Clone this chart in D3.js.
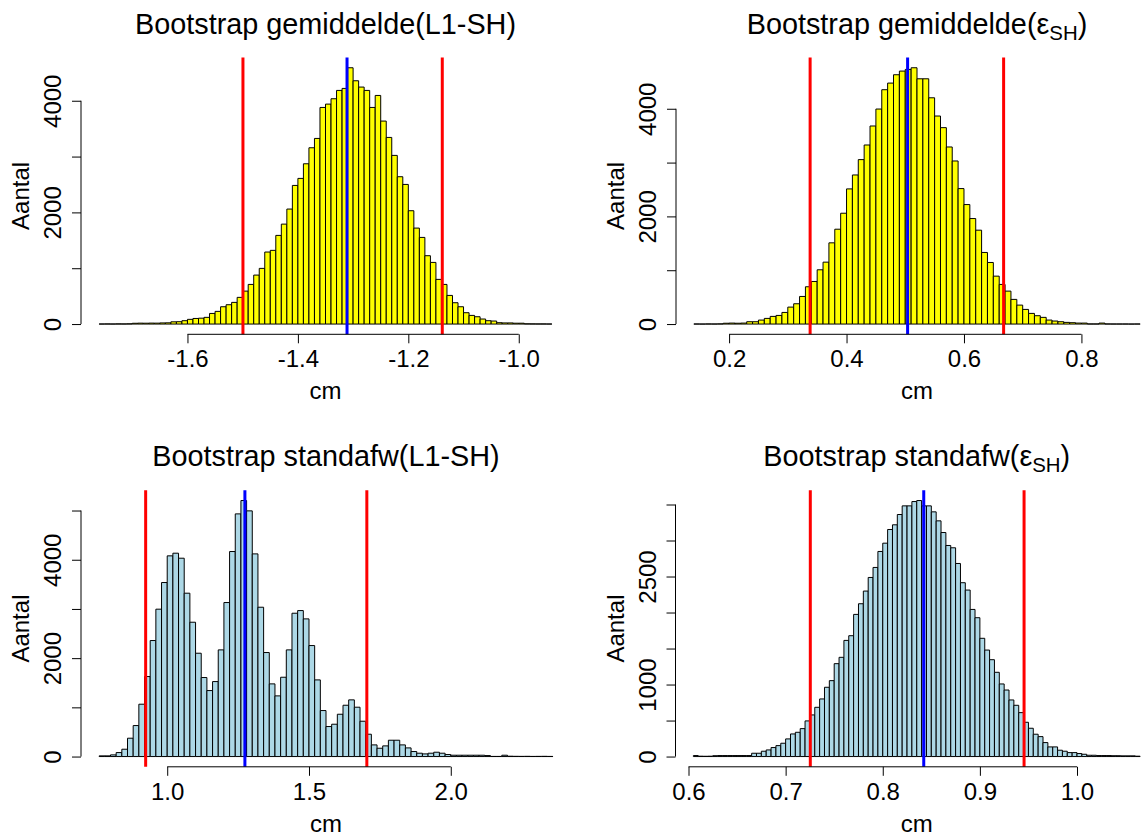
<!DOCTYPE html>
<html>
<head>
<meta charset="utf-8">
<script src="https://cdn.jsdelivr.net/npm/d3@7"></script>
<style>
  body { margin: 0; background: #fff; }
  svg { display: block; font-family: "Liberation Sans", Arial, Helvetica, sans-serif; }
</style>
</head>
<body>
<div id="chart"></div>
<script>
// Bootstrap histograms: counts per bin, first break and bin width
const meanL1Counts = [1, 2, 1, 3, 2, 4, 14, 16, 15, 17, 16, 20, 22, 40, 42, 60, 84, 100, 105, 120,
  190, 227, 310, 346, 388, 478, 590, 710, 877, 997, 1290, 1320, 1588, 1790, 2060, 2483, 2609, 2871, 3158, 3325,
  3880, 3940, 4036, 4185, 4221, 4591, 4358, 4245, 4185, 3880, 4095, 3636, 3343, 3021, 2639, 2501, 2030, 1719, 1552, 1224,
  1104, 800, 710, 513, 382, 310, 203, 155, 131, 90, 60, 54, 24, 20, 20, 15, 15, 4, 3, 2, 2, 1];
const meanL1Start = -1.76;
const meanL1Bin = 0.01;
const meanL1Ci = [-1.4995, -1.1385];
const meanL1Mean = -1.311;
const meanL1XTicks = [-1.6, -1.4, -1.2, -1.0];
const meanL1YTicks = [0, 1000, 2000, 3000, 4000];
const meanL1YLabels = [0, 2000, 4000];

const meanEpsCounts = [1, 0, 2, 1, 3, 15, 18, 15, 18, 43, 43, 74, 105, 142, 160, 216, 315, 377, 513, 693,
  791, 1008, 1150, 1509, 1762, 2059, 2511, 2770, 3055, 3327, 3680, 3995, 4354, 4477, 4632, 4700, 4731, 4762, 4557, 4557,
  4204, 3865, 3649, 3290, 3030, 2517, 2220, 1960, 1744, 1330, 1144, 890, 736, 612, 458, 352, 272, 198, 155, 124,
  74, 56, 43, 31, 25, 18, 18, 2, 2, 18, 2, 1, 1, 1, 0, 1];
const meanEpsStart = 0.14;
const meanEpsBin = 0.01;
const meanEpsCi = [0.338, 0.6675];
const meanEpsMean = 0.504;
const meanEpsXTicks = [0.2, 0.4, 0.6, 0.8];
const meanEpsYTicks = [0, 1000, 2000, 3000, 4000];
const meanEpsYLabels = [0, 2000, 4000];

const sdL1Counts = [14, 14, 34, 81, 149, 373, 630, 1064, 1626, 2358, 2995, 3537, 4079, 4133, 4031, 3320, 2730, 2100, 1606, 1341,
  1524, 2168, 3130, 4167, 4932, 5203, 4993, 4119, 3035, 2114, 1477, 1233, 1612, 2168, 2913, 2967, 2798, 2256, 1558, 935,
  610, 657, 860, 1043, 1152, 1003, 718, 454, 237, 169, 217, 332, 332, 237, 176, 102, 68, 54, 68, 88,
  68, 41, 27, 27, 27, 27, 27, 27, 20, 3, 3, 27, 7, 5, 4, 5, 3, 4, 5, 3];
const sdL1Start = 0.76;
const sdL1Bin = 0.02;
const sdL1Ci = [0.924, 1.704];
const sdL1Mean = 1.274;
const sdL1XTicks = [1.0, 1.5, 2.0];
const sdL1YTicks = [0, 1000, 2000, 3000, 4000, 5000];
const sdL1YLabels = [0, 2000, 4000];

const sdEpsCounts = [14, 5, 4, 5, 12, 14, 14, 14, 14, 14, 14, 14, 46, 46, 74, 92, 125, 152, 185, 245,
  314, 337, 388, 495, 578, 684, 800, 962, 1054, 1290, 1378, 1613, 1678, 1974, 2122, 2298, 2487, 2626, 2848, 2963,
  3153, 3218, 3361, 3481, 3481, 3541, 3555, 3481, 3481, 3398, 3273, 3111, 2931, 2899, 2681, 2414, 2312, 2043, 1928, 1642,
  1479, 1345, 1170, 1008, 924, 786, 712, 610, 476, 393, 310, 277, 194, 134, 134, 88, 74, 55, 55, 42,
  32, 18, 18, 14, 14, 14, 12, 12, 10, 10, 10, 5];
const sdEpsStart = 0.605;
const sdEpsBin = 0.005;
const sdEpsCi = [0.7254, 0.9455];
const sdEpsMean = 0.8422;
const sdEpsXTicks = [0.6, 0.7, 0.8, 0.9, 1.0];
const sdEpsYTicks = [0, 500, 1000, 1500, 2000, 2500, 3000, 3500];
const sdEpsYLabels = [0, 1000, 2500];

const W = 1141, H = 837;
const FONT = 24;

// plot regions (R-style: data range padded 4% on each side)
const panels = [
  { title: ['Bootstrap gemiddelde(L1-SH)'], counts: meanL1Counts, start: meanL1Start, bin: meanL1Bin,
    ci: meanL1Ci, mean: meanL1Mean, xTicks: meanL1XTicks, yTicks: meanL1YTicks, yLabels: meanL1YLabels,
    fill: '#ffff00', box: { left: 81, right: 570, top: 57.5, bottom: 334.3 } },
  { title: ['Bootstrap gemiddelde(', 'SH', ')'], counts: meanEpsCounts, start: meanEpsStart, bin: meanEpsBin,
    ci: meanEpsCi, mean: meanEpsMean, xTicks: meanEpsXTicks, yTicks: meanEpsYTicks, yLabels: meanEpsYLabels,
    fill: '#ffff00', box: { left: 676, right: 1158, top: 57.5, bottom: 334.3 } },
  { title: ['Bootstrap standafw(L1-SH)'], counts: sdL1Counts, start: sdL1Start, bin: sdL1Bin,
    ci: sdL1Ci, mean: sdL1Mean, xTicks: sdL1XTicks, yTicks: sdL1YTicks, yLabels: sdL1YLabels,
    fill: '#add8e6', box: { left: 81, right: 571, top: 490.3, bottom: 766.8 } },
  { title: ['Bootstrap standafw(', 'SH', ')'], counts: sdEpsCounts, start: sdEpsStart, bin: sdEpsBin,
    ci: sdEpsCi, mean: sdEpsMean, xTicks: sdEpsXTicks, yTicks: sdEpsYTicks, yLabels: sdEpsYLabels,
    fill: '#add8e6', box: { left: 675.5, right: 1158, top: 490.3, bottom: 766.8 } }
];

const svg = d3.select('#chart')
  .append('svg')
  .attr('width', W)
  .attr('height', H);

svg.append('rect').attr('width', W).attr('height', H).attr('fill', '#fff');

panels.forEach(p => {
  const b = p.box;
  const bins = p.counts.map((c, i) => ({ x0: p.start + i * p.bin, x1: p.start + (i + 1) * p.bin, count: c }));
  const lo = bins[0].x0, hi = bins[bins.length - 1].x1;
  const maxC = d3.max(bins, d => d.count);

  const x = d3.scaleLinear()
    .domain([lo - 0.04 * (hi - lo), hi + 0.04 * (hi - lo)])
    .range([b.left, b.right]);
  const y = d3.scaleLinear()
    .domain([-0.04 * maxC, 1.04 * maxC])
    .range([b.bottom, b.top]);

  const g = svg.append('g');

  // bars as closed paths so empty bins still leave the baseline, like R's rect()
  g.append('g')
    .selectAll('path')
    .data(bins)
    .join('path')
    .attr('d', d => `M${x(d.x0)},${y(0)}V${y(d.count)}H${x(d.x1)}V${y(0)}Z`)
    .attr('fill', p.fill)
    .attr('stroke', '#000')
    .attr('stroke-width', 1);

  // interval and mean lines, clipped to the plot region
  const vlines = [
    { v: p.ci[0], color: '#ff0000' },
    { v: p.mean, color: '#0000ff' },
    { v: p.ci[1], color: '#ff0000' }
  ];
  g.append('g')
    .selectAll('line')
    .data(vlines)
    .join('line')
    .attr('x1', d => x(d.v))
    .attr('x2', d => x(d.v))
    .attr('y1', b.top)
    .attr('y2', b.bottom)
    .attr('stroke', d => d.color)
    .attr('stroke-width', 3);

  // x axis
  const fmt = d => d.toFixed(1);
  const xAxis = g.append('g')
    .attr('transform', `translate(0,${b.bottom})`)
    .call(d3.axisBottom(x).tickValues(p.xTicks).tickSize(9).tickPadding(7).tickFormat(fmt));
  xAxis.select('.domain').remove();
  xAxis.append('line')
    .attr('x1', x(p.xTicks[0]))
    .attr('x2', x(p.xTicks[p.xTicks.length - 1]))
    .attr('stroke', '#000');
  xAxis.selectAll('text').attr('fill', '#000').attr('font-size', FONT).attr('font-family', null);
  xAxis.selectAll('.tick line').attr('stroke', '#000');

  // y axis with rotated labels
  const yAxis = g.append('g')
    .attr('transform', `translate(${b.left},0)`)
    .call(d3.axisLeft(y).tickValues(p.yTicks).tickSize(9)
      .tickFormat(d => p.yLabels.includes(d) ? String(d) : ''));
  yAxis.select('.domain').remove();
  yAxis.append('line')
    .attr('y1', y(p.yTicks[0]))
    .attr('y2', y(p.yTicks[p.yTicks.length - 1]))
    .attr('stroke', '#000');
  yAxis.selectAll('.tick line').attr('stroke', '#000');
  yAxis.selectAll('text')
    .attr('fill', '#000')
    .attr('font-size', FONT)
    .attr('font-family', null)
    .attr('transform', 'rotate(-90)')
    .attr('text-anchor', 'middle')
    .attr('x', 0)
    .attr('y', -20)
    .attr('dy', null);

  // axis titles
  g.append('text')
    .attr('x', (b.left + b.right) / 2)
    .attr('y', b.bottom + 65)
    .attr('text-anchor', 'middle')
    .attr('font-size', FONT)
    .text('cm');

  g.append('text')
    .attr('transform', `translate(${b.left - 52},${(b.top + b.bottom) / 2}) rotate(-90)`)
    .attr('text-anchor', 'middle')
    .attr('font-size', FONT)
    .text('Aantal');

  // main title, epsilon with subscript when the title has three parts
  const title = g.append('text')
    .attr('x', (b.left + b.right) / 2)
    .attr('y', b.top - 24)
    .attr('text-anchor', 'middle')
    .attr('font-size', FONT * 1.2);
  if (p.title.length === 1) {
    title.text(p.title[0]);
  } else {
    title.append('tspan').text(p.title[0] + 'ε');
    title.append('tspan').attr('font-size', FONT * 0.85).attr('dy', 6).text(p.title[1]);
    title.append('tspan').attr('dy', -6).text(p.title[2]);
  }
});
</script>
</body>
</html>
